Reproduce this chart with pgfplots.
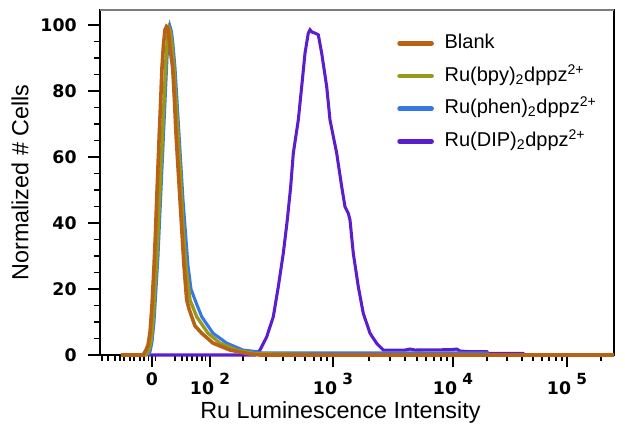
\documentclass[border=0pt]{standalone}
\usepackage{pgfplots}
\pgfplotsset{compat=1.18}
\usepackage{fontspec}
\setmainfont{Liberation Sans}
\newfontfamily\tickfont{DejaVu Sans}
\definecolor{cBlank}{RGB}{184,98,22}
\definecolor{cBpy}{RGB}{152,152,26}
\definecolor{cPhen}{RGB}{52,120,232}
\definecolor{cDip}{RGB}{92,30,205}
\definecolor{cTop}{RGB}{125,125,125}
\newcommand{\dec}[1]{10\hspace{4pt}\raisebox{0.6em}{\fontsize{11.5}{11.5}\selectfont #1}}
\begin{document}
\begin{tikzpicture}
\begin{axis}[
  scale only axis, width=385.5pt, height=258.75pt,
  xmin=100, xmax=614, ymin=0, ymax=104.5,
  clip=false,
  axis line style={line width=1pt, black},
  tick align=outside, xtick pos=bottom, ytick pos=left,
  major tick length=9pt, minor tick length=4.5pt,
  every tick/.style={black, line width=1.1pt},
  ytick={0,20,40,60,80,100}, minor y tick num=3,
  xtick={152,210,333,453,567},
  xticklabels={0,\dec{2},\dec{3},\dec{4},\dec{5}},
  minor xtick={102,108,115,120,124,130,134,140,144,148.5,155.5,175,182,187,192,197,202,205.5,
    243,266,283,295,305,314,321,327,
    369,390,405,417,426,434,441,447,
    487,507,522,533,542,549,556,562,601},
  /pgf/number format/assume math mode=true,
  ticklabel style={font=\tickfont\bfseries\fontsize{13}{14}\selectfont},
  yticklabel style={xshift=-5pt},
  xticklabel style={yshift=-1pt},
  xlabel={Ru Luminescence Intensity},
  ylabel={Normalized \# Cells},
  label style={font=\fontsize{17.5}{20}\selectfont},
  xlabel style={at={(rel axis cs:0.5,0)}, anchor=center, xshift=-12.4pt, yshift=-42.75pt},
  ylabel style={at={(axis description cs:-0.1556,0.5)}, anchor=center},
  legend cell align=left,
  legend style={at={(axis cs:397,97.4)}, anchor=north west, draw=none, fill=none,
    inner sep=0pt, row sep=10pt, font=\fontsize{15}{18}\selectfont,
    nodes={inner sep=0pt, text height=11pt, text depth=3.5pt}},
  legend image code/.code={\draw[#1, line width=3.5pt, line cap=round] (0pt,0pt) -- (24pt,0pt);},
]
\addlegendimage{cBlank}
\addlegendentry{\hspace{8pt}Blank}
\addlegendimage{cBpy}
\addlegendentry{\hspace{8pt}Ru(bpy)\textsubscript{2}dppz\textsuperscript{2+}}
\addlegendimage{cPhen}
\addlegendentry{\hspace{8pt}Ru(phen)\textsubscript{2}dppz\textsuperscript{2+}}
\addlegendimage{cDip}
\addlegendentry{\hspace{8pt}Ru(DIP)\textsubscript{2}dppz\textsuperscript{2+}}

% Ru(DIP)2dppz2+
\addplot[cDip, line width=2.3pt, forget plot] coordinates {
(148,0)(255,0)(260,1.5)(266.7,5.5)(273.3,11.6)(278.3,20.7)(283.3,30.8)(287.3,40.9)
(290.7,51)(293.3,61.1)(298.3,71.2)(301.7,81.3)(305,91.4)(308.3,97.5)(310,98.5)
(312,97.8)(315,97.5)(318.3,97)(321.7,91.4)(326.7,81.3)(330,71.2)(336.7,61.1)
(341.7,51)(345,44.9)(348.3,42.9)(350,40.9)(353.3,30.8)(358.3,20.7)(363.3,12.6)
(370,6.6)(376.7,3.5)(383.3,1.5)(405,1.5)(410,1.8)(415,1.5)(450,1.6)(456.7,1.8)
(460,1.2)(470,1.0)(486.7,1.0)(488,0.5)(523,0.5)(525,0)
};
% Ru(phen)2dppz2+
\addplot[cPhen, line width=2.3pt, forget plot] coordinates {
(148,0)(150,1)(152,4)(154,10)(156,20)(158,30)(159.5,40)(161,50)(162.5,60)(164,70)
(165.5,80)(167,90)(168.5,96)(170,99.5)(171.5,98)(173,94)(175,87)(177,77)(179,67)
(181,57)(183,47)(185.5,37)(188,27)(191,20)(195,16.7)(201.7,11.6)(213,6.6)
(226.7,3.6)(243,1.5)(257,1.0)(262,0.6)(487,0.6)(490,0)(614,0)
};
% Ru(bpy)2dppz2+
\addplot[cBpy, line width=2.5pt, forget plot] coordinates {
(121,0)(146,0)(149,1.5)(151,4)(153,10)(155,20)(157,30)(158.5,40)(160,50)(161.5,60)
(163,70)(164.5,80)(166,90)(167.5,96)(169,99)(170.5,98)(172,94)(174,87)(176,77)
(178,67)(180,57)(181.7,47)(183.5,37)(186,27)(190,16.7)(196.7,11.6)(208,6.6)
(220,3.6)(236.7,1.5)(255,0.4)(350,0)
};
% Blank
\addplot[cBlank, line width=2.7pt, forget plot] coordinates {
(121,0)(143,0)(146,1.5)(148,3)(150,6.7)(152,15)(154,26.7)(155.5,37)(156.7,47)
(158,57)(159.3,67)(160.7,77)(162,87)(163.5,94)(165,98.5)(166.5,99.5)(168,99)
(170,93)(172.7,87)(174.5,77)(176,67)(178,57)(180,47)(182,37)(184,27)(186.7,16.7)
(189,14)(191.7,11.6)(195,8.8)(201.7,6.6)(213,3.6)(230,1.5)(250,0.3)(260,0)(614,0)
};
\end{axis}
\draw[cTop, line width=1pt] (current axis.north west) -- (current axis.north east);
\pgfresetboundingbox
\path ([shift={(-75pt,-59.25pt)}]current axis.south west) rectangle ([shift={(8.25pt,7.5pt)}]current axis.north east);
\end{tikzpicture}
\end{document}
